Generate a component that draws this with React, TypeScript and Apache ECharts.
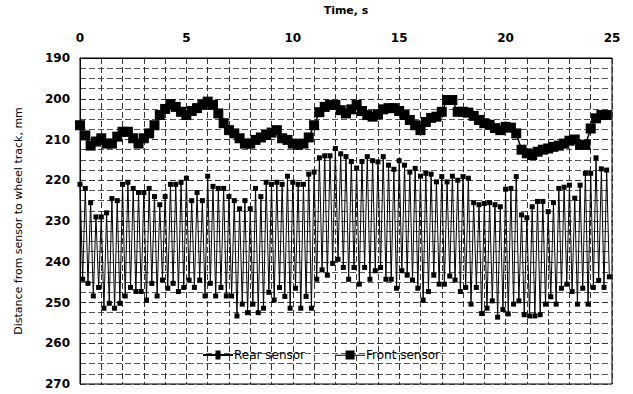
import React, { useEffect, useRef } from "react";
import * as echarts from "echarts";

// Time axis ticks (s)
const timeTicks = [0, 5, 10, 15, 20, 25];
// Distance axis ticks (mm)
const distTicks = [190, 200, 210, 220, 230, 240, 250, 260, 270];

// sampling steps of the two recordings (s)
const rearStep = 0.125;
const frontStep = 0.25;

// Rear sensor distance, mm (alternating high / low readings)
const rearSensor = [
  221, 244.3, 222, 245.3, 225.5, 248.4, 229, 246.3, 229, 251.4,
  228, 250.2, 224.5, 251.4, 225, 250.2, 221, 248.4, 220.5, 246.3,
  222, 247.3, 223, 247.3, 223, 249.4, 222, 245.3, 224, 248.4,
  226, 244.5, 224, 246.5, 221, 245.3, 221, 247.3, 220.5, 246.3,
  219.5, 244.5, 225, 246.3, 223, 244.5, 225, 248.4, 219, 245.3,
  221.5, 248.4, 222, 246.3, 222, 248.4, 224, 248.4, 225, 253.3,
  227, 250.4, 225, 252.5, 227, 250.4, 222, 252.5, 224, 251.4,
  220.5, 247.5, 221, 249.4, 220.5, 246.3, 221, 248.5, 219, 251.4,
  220.5, 246.5, 221, 251.4, 221, 248.5, 218.5, 251.4, 218, 244.3,
  214.5, 242, 214, 243.3, 214, 240.4, 212.2, 239.4, 213.5, 241.4,
  214.2, 244.3, 215.4, 241.4, 217, 245.5, 215.4, 241.4, 214.2, 244.3,
  215.2, 242.2, 215.5, 241.4, 214.2, 244.3, 216.3, 244.3, 217.3, 246.5,
  215.2, 242.2, 216.3, 243.3, 218, 244.5, 217.1, 246.5, 219, 249.4,
  218.3, 247.3, 218.5, 243.3, 220.4, 245.5, 219.1, 245.5, 220.4, 243.5,
  219, 244.5, 220, 247.3, 219.1, 246.3, 219.5, 250.4, 225.5, 246.3,
  226, 252.7, 225.7, 251.4, 225.5, 249.6, 226, 253.6, 226.5, 251.7,
  222.2, 252.8, 222, 250.4, 219.1, 249.6, 228.5, 253, 229.2, 253.3,
  226.5, 253.3, 225.2, 253, 225.2, 250.4, 227.7, 248.6, 225.5, 250.4,
  222, 246.5, 221.7, 245.5, 221.2, 247.3, 224.4, 250.4, 221.2, 246.5,
  218.3, 250.4, 218.3, 246.3, 214.5, 244.6, 217.2, 246.3, 217.5, 243.7,
];

// Front sensor distance, mm
const frontSensor = [
  206.5, 209, 211.5, 210.5, 209.7, 211, 211, 209.3, 208.1, 208.1,
  209.7, 211, 209.7, 208.5, 206.5, 204, 202.5, 201.3, 202, 203.2,
  204, 203, 202.3, 201.5, 200.7, 201.5, 203.6, 206, 207.7, 208.5,
  209.7, 211, 211, 210.1, 209.5, 208.9, 208.3, 207.7, 209.7, 210.1,
  211, 211.3, 211, 209.5, 206.5, 203.3, 202, 201.5, 201.5, 202.8,
  203.6, 202.6, 201.5, 203, 204, 204.4, 203.8, 202.6, 202.3, 202.3,
  203, 204, 205.2, 206.5, 207.7, 205.7, 204.7, 204.4, 203.2, 200.3,
  200.3, 203.2, 203.2, 203.4, 204.2, 205.2, 206, 206.4, 207.2, 207.7,
  206.9, 207.1, 208.5, 212.5, 213.4, 213.8, 213, 212.5, 212.2, 211.8,
  211.5, 211, 210.3, 210, 211.3, 211.3, 207.3, 204.8, 204, 204,
];

const seriesNames = ["Rear sensor", "Front sensor"];

const FONT = "'DejaVu Sans', Verdana, sans-serif";

// legend icons: line with a small / big square marker
const rearIcon = "path://M0,4.2L30,4.2L30,5.2L0,5.2Z M12.5,2.2L17.5,2.2L17.5,7.2L12.5,7.2Z";
const frontIcon = "path://M0,4.2L30,4.2L30,5.2L0,5.2Z M10.5,0L19.5,0L19.5,9L10.5,9Z";

export default function App() {
  const ref = useRef<HTMLDivElement>(null);

  useEffect(() => {
    if (!ref.current) return;
    const chart = echarts.init(ref.current, undefined, { renderer: "svg" });
    const gridLine = { color: "#333", width: 1, type: [6, 3] as number[] };
    chart.setOption({
      animation: false,
      backgroundColor: "#ffffff",
      textStyle: { fontFamily: FONT, color: "#000" },
      grid: {
        left: 80,
        top: 58,
        right: 21,
        bottom: 10,
        show: true,
        borderColor: "#000",
        borderWidth: 1,
        backgroundColor: "transparent",
      },
      legend: {
        data: [
          { name: seriesNames[0], icon: rearIcon },
          { name: seriesNames[1], icon: frontIcon },
        ],
        left: 198,
        top: 344,
        itemWidth: 30,
        itemHeight: 9,
        itemGap: 30,
        symbolKeepAspect: false,
        backgroundColor: "transparent",
        textStyle: { fontFamily: FONT, fontSize: 12, color: "#000", padding: [0, 0, 0, -4] },
      },
      xAxis: {
        type: "value",
        position: "top",
        min: timeTicks[0],
        max: timeTicks[timeTicks.length - 1],
        interval: timeTicks[1] - timeTicks[0],
        name: "Time, s",
        nameLocation: "middle",
        nameGap: 42,
        nameTextStyle: { fontFamily: FONT, fontSize: 11, fontWeight: "bold", color: "#000" },
        axisLine: { show: true, lineStyle: { color: "#000", width: 1 } },
        axisTick: { show: false },
        axisLabel: { margin: 14, fontFamily: FONT, fontSize: 12, fontWeight: "bold", color: "#000" },
        splitLine: { show: true, lineStyle: gridLine },
        minorTick: { show: false, splitNumber: 5 },
        minorSplitLine: { show: true, lineStyle: gridLine },
      },
      yAxis: {
        type: "value",
        inverse: true,
        min: distTicks[0],
        max: distTicks[distTicks.length - 1],
        interval: distTicks[1] - distTicks[0],
        name: "Distance from sensor to wheel track, mm",
        nameLocation: "middle",
        nameGap: 56,
        nameTextStyle: { fontFamily: FONT, fontSize: 11, color: "#000" },
        axisLine: { show: true, lineStyle: { color: "#000", width: 1 } },
        axisTick: { show: false },
        axisLabel: { margin: 10, fontFamily: FONT, fontSize: 12, fontWeight: "bold", color: "#000" },
        splitLine: { show: true, lineStyle: gridLine },
        minorTick: { show: false, splitNumber: 4 },
        minorSplitLine: { show: true, lineStyle: { ...gridLine, color: "#555" } },
      },
      series: [
        {
          name: seriesNames[0],
          type: "line",
          data: rearSensor.map((v, i) => [i * rearStep, v]),
          symbol: "rect",
          symbolSize: 5,
          showSymbol: true,
          lineStyle: { color: "#000", width: 1 },
          itemStyle: { color: "#000" },
          z: 3,
        },
        {
          name: seriesNames[1],
          type: "line",
          data: frontSensor.map((v, i) => [i * frontStep, v]),
          symbol: "rect",
          symbolSize: 10,
          showSymbol: true,
          lineStyle: { color: "#000", width: 1.5 },
          itemStyle: { color: "#000" },
          z: 4,
        },
      ],
    });
    return () => chart.dispose();
  }, []);

  return (
    <div
      ref={ref}
      style={{ position: "fixed", left: 0, top: 0, width: 633, height: 394, background: "#fff" }}
    />
  );
}
